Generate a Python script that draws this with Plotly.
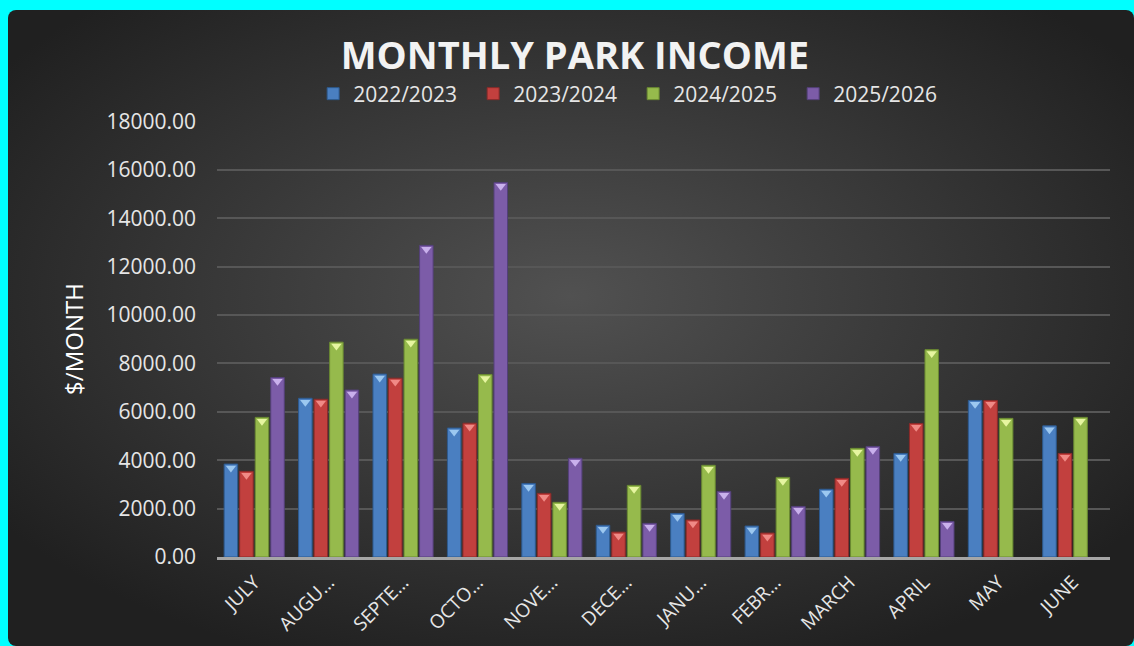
import base64
import plotly.graph_objects as go

months = ["JULY", "AUGU…", "SEPTE…", "OCTO…", "NOVE…", "DECE…", "JANU…", "FEBR…",
          "MARCH", "APRIL", "MAY", "JUNE"]
s2022 = [3840, 6560, 7560, 5330, 3040, 1310, 1800, 1280, 2800, 4280, 6470, 5420]
s2023 = [3540, 6520, 7390, 5530, 2630, 1030, 1530, 990, 3250, 5520, 6470, 4280]
s2024 = [5770, 8880, 9000, 7540, 2260, 2960, 3790, 3290, 4490, 8570, 5730, 5770]
s2025 = [7420, 6900, 12880, 15480, 4080, 1390, 2710, 2090, 4570, 1470, None, None]
series_names = ["2022/2023", "2023/2024", "2024/2025", "2025/2026"]
colors = ["#4a7fc1", "#c2403e", "#96ba4c", "#7c5ca8"]
edge = ["#2d5a8f", "#8a2a29", "#6a8a32", "#54407a"]
tips = ["#9cc8f0", "#f08a86", "#e6f5a0", "#c9b0ec"]

W, H = 1134, 646
ml, mr, mt, mb = 217, 24, 121, 89
pw, ph = W - ml - mr, H - mt - mb

svg = f'''<svg xmlns="http://www.w3.org/2000/svg" width="{W-8}" height="{H-10}">
<defs><radialGradient id="g" cx="50%" cy="45%" r="62%">
<stop offset="0%" stop-color="#515151"/><stop offset="100%" stop-color="#202020"/>
</radialGradient></defs>
<rect x="0" y="0" width="{W-8}" height="{H-10}" rx="8" ry="8" fill="url(#g)"/>
</svg>'''
src = "data:image/svg+xml;base64," + base64.b64encode(svg.encode()).decode()

fig = go.Figure()
for k, (name, vals) in enumerate(zip(series_names, [s2022, s2023, s2024, s2025])):
    fig.add_trace(go.Bar(x=months, y=vals, name=name, offsetgroup=str(k),
                         marker=dict(color=colors[k], line=dict(color=edge[k], width=1))))
for k, vals in enumerate([s2022, s2023, s2024, s2025]):
    tip_y = [v - 160 if v is not None else None for v in vals]
    fig.add_trace(go.Scatter(x=months, y=tip_y, mode="markers", offsetgroup=str(k),
                             showlegend=False, hoverinfo="skip",
                             marker=dict(symbol="triangle-down", size=9, color=tips[k],
                                         line=dict(width=0))))

fig.update_layout(
    width=W, height=H,
    margin=dict(l=ml, r=mr, t=mt, b=mb, autoexpand=False),
    paper_bgcolor="#00ffff",
    plot_bgcolor="rgba(0,0,0,0)",
    barmode="group", bargap=0.165, bargroupgap=0.13,
    scattermode="group", scattergap=0.165,
    images=[dict(source=src, xref="paper", yref="paper",
                 x=(8 - ml) / pw, y=1 + (mt - 10) / ph,
                 sizex=(W - 8) / pw, sizey=(H - 10) / ph,
                 xanchor="left", yanchor="top", sizing="stretch", layer="below")],
    title=dict(text="<b>MONTHLY PARK INCOME</b>", x=0.507, xanchor="center",
               y=1 - 55.5 / H, yanchor="middle",
               font=dict(family="Open Sans", size=38, color="#f2f2f2")),
    legend=dict(orientation="h", x=0.466, xanchor="center", y=1 - 94 / H, yref="container",
                yanchor="middle", font=dict(family="Open Sans", size=21, color="#e6e6e6"),
                itemwidth=30, entrywidth=115, entrywidthmode="pixels",
                tracegroupgap=0, bgcolor="rgba(0,0,0,0)"),
    font=dict(family="Open Sans", color="#e6e6e6"),
)
fig.update_yaxes(range=[0, 18020], dtick=2000, tickformat=".2f",
                 gridcolor="#575757", gridwidth=1.5, zeroline=False, automargin=False,
                 tickfont=dict(size=21, color="#e6e6e6"), ticks="", ticklen=0,
                 ticklabelstandoff=20,
                 title=dict(text="$/MONTH", font=dict(size=24, color="#ffffff"), standoff=16))
fig.update_xaxes(tickangle=-45, tickfont=dict(size=19, color="#e6e6e6"), automargin=False,
                 ticklabelstandoff=4,
                 showline=True, linecolor="#a6a6a6", linewidth=2.5, ticks="")
fig.write_html("out.html", config={"displayModeBar": False},
               post_script="document.body.style.margin='0';document.body.style.background='#00ffff';")
